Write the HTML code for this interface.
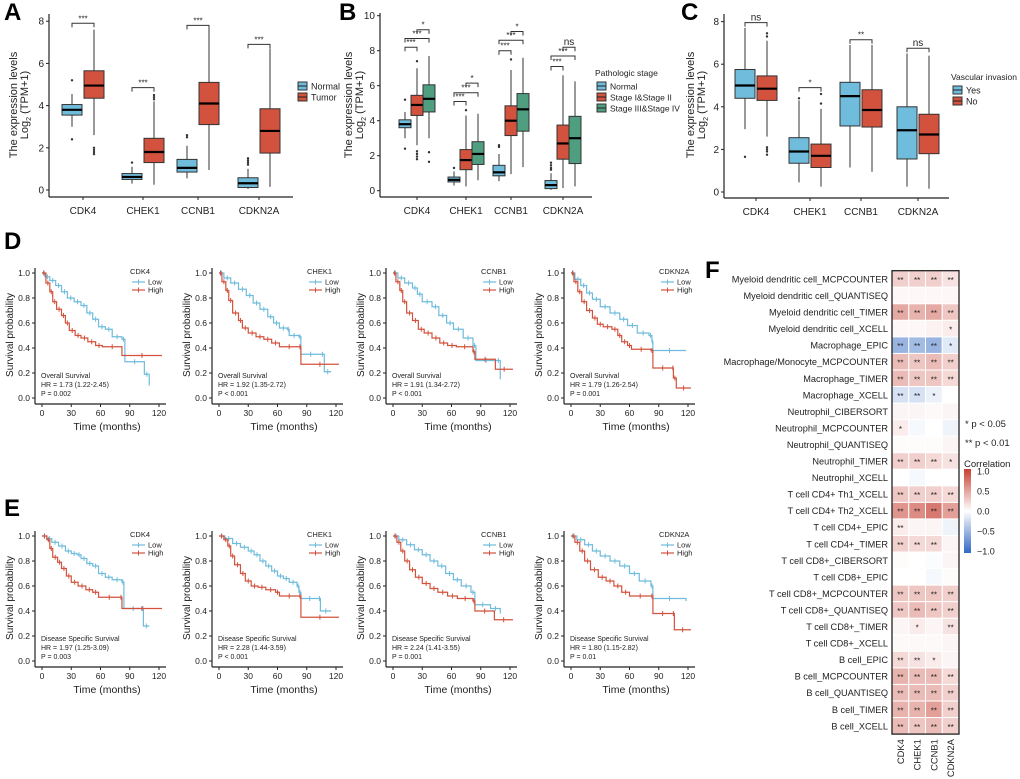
<!DOCTYPE html>
<html><head><meta charset="utf-8"><style>
body{margin:0;background:#fff;}
svg{display:block;font-family:"Liberation Sans",Arial,sans-serif;}
</style></head><body>
<svg id="fig" width="1020" height="779" viewBox="0 0 1020 779" xmlns="http://www.w3.org/2000/svg"></svg>
<script>
// ---------- DATA ----------
const genes = ["CDK4","CHEK1","CCNB1","CDKN2A"];
// box stats: [low, q1, median, q3, high, outliers...]
const boxA_normal = [[3.0,3.55,3.8,4.05,4.55,5.2,2.4],[0.3,0.5,0.62,0.78,1.1,1.3],[0.55,0.85,1.05,1.45,2.1,2.5,2.6],[0.05,0.12,0.32,0.58,1.0,1.2,1.3,1.4,1.5]];
const boxA_tumor = [[2.6,4.35,4.95,5.65,7.6,1.7,1.8,1.9,2.0],[0.25,1.3,1.8,2.45,4.2,4.3,4.4,4.5],[0.95,3.1,4.1,5.1,7.7],[0.15,1.75,2.8,3.85,6.7]];
const sigA_y = [7.9,4.85,7.8,6.9];
const sigA_lab = ["***","***","***","***"];
const boxB_normal = [[3.0,3.6,3.8,4.05,4.5,5.2,2.4],[0.3,0.5,0.62,0.78,1.1,1.3],[0.55,0.85,1.05,1.45,2.1,2.5,2.6],[0.05,0.12,0.32,0.58,1.0,1.2,1.3,1.45,1.6]];
const boxB_stage12 = [[2.6,4.3,4.9,5.45,7.0,7.4,1.8,1.95,2.1,2.25],[0.25,1.2,1.75,2.35,4.3,4.6],[0.95,3.15,4.0,4.85,6.9,7.5],[0.15,1.8,2.7,3.75,6.6]];
const boxB_stage34 = [[3.0,4.5,5.25,6.05,7.7,1.65,2.2],[0.6,1.5,2.1,2.8,4.4],[1.35,3.4,4.65,5.55,7.6],[0.25,1.55,3.0,4.25,6.25]];
const sigB_y1 = [8.2,5.1,8.0,7.1];
const sigB_y2 = [8.7,5.6,8.6,7.7];
const sigB_y3 = [9.2,6.15,9.1,8.2];
const sigB_lab3 = ["*","*","*","ns"];
const boxC_yes = [[2.95,4.4,5.0,5.75,7.7,1.65],[0.45,1.35,1.9,2.55,4.3,4.4],[1.15,3.1,4.5,5.15,6.9],[0.25,1.55,2.9,4.0,6.5]];
const boxC_no = [[2.6,4.3,4.85,5.45,7.1,7.3,7.45,1.75,1.9,2.0,2.1],[0.25,1.15,1.7,2.25,3.9,4.15,4.6],[0.95,3.05,3.85,4.8,6.9],[0.15,1.8,2.7,3.65,6.4]];
const sigC_y = [7.95,4.9,7.15,6.75];
const sigC_lab = ["ns","*","**","ns"];

// KM curves [time, survival]
const kmD_low = [
 [[0,1],[3,.97],[8,.94],[14,.9],[20,.85],[26,.8],[33,.77],[40,.74],[46,.68],[52,.63],[58,.57],[65,.55],[72,.49],[82,.47],[85,.29],[105,.19],[110,.1]],
 [[0,1],[5,.96],[12,.92],[20,.87],[28,.82],[35,.76],[42,.71],[50,.65],[56,.6],[62,.56],[70,.55],[72,.5],[82,.49],[84,.35],[104,.35],[108,.21],[115,.21]],
 [[0,1],[5,.96],[12,.92],[20,.88],[25,.83],[30,.77],[40,.73],[47,.66],[55,.6],[62,.55],[72,.48],[82,.42],[85,.3],[106,.3],[110,.15]],
 [[0,1],[4,.95],[10,.9],[16,.84],[22,.79],[30,.73],[40,.68],[50,.63],[58,.58],[68,.52],[80,.5],[83,.45],[84,.38],[118,.38]]];
const kmD_high = [
 [[0,1],[4,.92],[8,.85],[11,.77],[15,.71],[20,.66],[24,.6],[28,.54],[34,.5],[40,.48],[47,.45],[55,.42],[62,.41],[82,.34],[123,.34]],
 [[0,1],[3,.93],[7,.86],[10,.78],[14,.68],[20,.62],[24,.56],[30,.52],[38,.49],[46,.47],[54,.44],[62,.41],[82,.41],[84,.27],[123,.27]],
 [[0,1],[3,.93],[7,.86],[10,.77],[14,.68],[20,.62],[26,.55],[32,.52],[40,.48],[48,.44],[56,.42],[65,.41],[82,.37],[84,.31],[105,.23],[123,.23]],
 [[0,1],[3,.93],[7,.85],[11,.77],[16,.7],[22,.64],[27,.59],[33,.57],[42,.55],[48,.5],[52,.45],[58,.42],[62,.39],[82,.38],[84,.24],[104,.24],[105,.16],[108,.08],[123,.08]]];
const kmE_low = [
 [[0,1],[5,.98],[10,.95],[17,.92],[24,.88],[30,.86],[36,.85],[40,.82],[46,.78],[52,.76],[58,.7],[65,.67],[72,.65],[82,.63],[84,.42],[103,.42],[104,.28],[110,.28]],
 [[0,1],[6,.98],[14,.94],[22,.91],[30,.88],[36,.85],[42,.8],[48,.76],[54,.72],[60,.68],[66,.66],[72,.63],[80,.6],[82,.55],[84,.5],[102,.5],[104,.4],[115,.4]],
 [[0,1],[6,.97],[14,.93],[22,.89],[30,.85],[38,.8],[46,.76],[54,.7],[62,.65],[70,.6],[80,.55],[84,.45],[100,.42],[110,.38]],
 [[0,1],[6,.97],[14,.93],[22,.88],[30,.84],[40,.8],[50,.76],[60,.7],[70,.64],[82,.6],[84,.5],[118,.48]]];
const kmE_high = [
 [[0,1],[5,.97],[8,.9],[11,.83],[16,.79],[20,.74],[25,.68],[30,.63],[37,.6],[45,.57],[52,.55],[58,.51],[80,.51],[82,.42],[123,.42]],
 [[0,1],[5,.97],[9,.92],[12,.84],[16,.77],[22,.7],[27,.64],[33,.6],[40,.59],[48,.57],[58,.55],[62,.52],[82,.52],[84,.35],[123,.35]],
 [[0,1],[4,.95],[8,.88],[12,.8],[17,.73],[23,.67],[30,.62],[38,.58],[46,.55],[56,.52],[66,.5],[82,.48],[84,.4],[104,.33],[123,.33]],
 [[0,1],[4,.95],[9,.88],[14,.8],[20,.73],[28,.67],[36,.64],[44,.6],[52,.55],[60,.52],[82,.52],[84,.38],[104,.38],[106,.25],[123,.25]]];
const kmD_hr = ["HR = 1.73 (1.22-2.45)","HR = 1.92 (1.35-2.72)","HR = 1.91 (1.34-2.72)","HR = 1.79 (1.26-2.54)"];
const kmD_p = ["P = 0.002","P < 0.001","P < 0.001","P = 0.001"];
const kmE_hr = ["HR = 1.97 (1.25-3.09)","HR = 2.28 (1.44-3.59)","HR = 2.24 (1.41-3.55)","HR = 1.80 (1.15-2.82)"];
const kmE_p = ["P = 0.003","P < 0.001","P = 0.001","P = 0.01"];
const kmTicks = [0,30,60,90,120];
const kmYTicks = [0,0.2,0.4,0.6,0.8,1.0];

// heatmap
const hmRows = ["Myeloid dendritic cell_MCPCOUNTER","Myeloid dendritic cell_QUANTISEQ","Myeloid dendritic cell_TIMER","Myeloid dendritic cell_XCELL","Macrophage_EPIC","Macrophage/Monocyte_MCPCOUNTER","Macrophage_TIMER","Macrophage_XCELL","Neutrophil_CIBERSORT","Neutrophil_MCPCOUNTER","Neutrophil_QUANTISEQ","Neutrophil_TIMER","Neutrophil_XCELL","T cell CD4+ Th1_XCELL","T cell CD4+ Th2_XCELL","T cell CD4+_EPIC","T cell CD4+_TIMER","T cell CD8+_CIBERSORT","T cell CD8+_EPIC","T cell CD8+_MCPCOUNTER","T cell CD8+_QUANTISEQ","T cell CD8+_TIMER","T cell CD8+_XCELL","B cell_EPIC","B cell_MCPCOUNTER","B cell_QUANTISEQ","B cell_TIMER","B cell_XCELL"];
const hmVals = [[.25,.25,.25,.15],[.04,.04,.04,.04],[.45,.4,.45,.3],[.04,.04,.07,.1],[-.5,-.45,-.5,-.15],[.35,.3,.35,.25],[.35,.3,.3,.2],[-.2,-.2,-.1,0],[.05,.05,.03,.05],[.1,-.05,0,-.08],[.02,.02,.02,.05],[.25,.25,.2,.15],[0,-.05,0,0],[.3,.25,.25,.2],[.55,.6,.7,.5],[.1,.05,.05,-.08],[.25,.2,.2,.05],[.02,0,-.02,.05],[0,0,-.05,.02],[.3,.3,.3,.25],[.3,.35,.3,.25],[.05,.1,.05,.15],[.03,.03,.03,.05],[.2,.15,.1,.05],[.4,.35,.35,.2],[.35,.35,.35,.25],[.4,.4,.5,.25],[.35,.3,.35,.25]];
const hmSig = [["**","**","**","**"],["","","",""],["**","**","**","**"],["","","","*"],["**","**","**","*"],["**","**","**","**"],["**","**","**","**"],["**","**","*",""],["","","",""],["*","","",""],["","","",""],["**","**","**","*"],["","","",""],["**","**","**","**"],["**","**","**","**"],["**","","",""],["**","**","**",""],["","","",""],["","","",""],["**","**","**","**"],["**","**","**","**"],["","*","","**"],["","","",""],["**","**","*",""],["**","**","**","**"],["**","**","**","**"],["**","**","**","**"],["**","**","**","**"]];
const cbTicks = [1.0,0.5,0.0,-0.5,-1.0];
const cbLabels = ["1.0","0.5","0.0","\u22120.5","\u22121.0"];

// ---------- DRAW ----------
const svg = document.getElementById('fig');
const NS = "http://www.w3.org/2000/svg";
function el(tag, attrs, parent){ const e=document.createElementNS(NS,tag); for(const k in attrs) e.setAttribute(k,attrs[k]); (parent||svg).appendChild(e); return e; }
function txt(x,y,s,size,opts,parent){ const t=el('text',Object.assign({x:x,y:y,'font-size':size,fill:'#222'},opts||{}),parent); t.textContent=s; return t; }
const BLUE="#6fbcdc", RED="#d2523d", GREEN="#4f9e80";

// panel letters
[["A",4,20],["B",339,20],["C",681,20],["D",4,249],["E",4,516],["F",705,278]].forEach(l=>{
  const t=txt(l[1],l[2],l[0],24,{'font-weight':'bold',fill:'#000'});
  
  
});

function boxPanel(cfg){
  const g=el('g',{});
  
  
  const y=v=>cfg.y0-v*cfg.ppu;
  el('line',{x1:cfg.ax,y1:cfg.ytop,x2:cfg.ax,y2:cfg.xaxY,stroke:'#222','stroke-width':1.2},g);
  el('line',{x1:cfg.ax,y1:cfg.xaxY,x2:cfg.axR,y2:cfg.xaxY,stroke:'#222','stroke-width':1.2},g);
  cfg.ticks.forEach(v=>{
    el('line',{x1:cfg.ax-3,y1:y(v),x2:cfg.ax,y2:y(v),stroke:'#222'},g);
    txt(cfg.ax-5,y(v)+3.5,String(v),10,{'text-anchor':'end'},g);
  });
  genes.forEach((gn,i)=>{
    el('line',{x1:cfg.cx[i],y1:cfg.xaxY,x2:cfg.cx[i],y2:cfg.xaxY+3,stroke:'#222'},g);
    const t=txt(cfg.cx[i],cfg.xaxY+17,gn,10,{'text-anchor':'middle'},g);
    
    
  });
  const yl=el('g',{transform:`translate(${cfg.ylx},${cfg.ylc}) rotate(-90)`},g);
  txt(0,0,"The expression levels",11,{'text-anchor':'middle'},yl);
  const t2=txt(0,11,"Log",11,{'text-anchor':'middle'},yl);
  const s=el('tspan',{'font-size':7,dy:3},t2); s.textContent="2";
  const s2=el('tspan',{dy:-3},t2); s2.textContent=" (TPM+1)";
  cfg.series.forEach((ser,si)=>{
    ser.data.forEach((d,i)=>{
      const cx=cfg.cx[i]+cfg.offs[si], w=cfg.bw;
      const b=el('g',{},g);
      
      
      el('line',{x1:cx,y1:y(d[0]),x2:cx,y2:y(d[4]),stroke:'#333','stroke-width':1},b);
      el('rect',{x:cx-w/2,y:y(d[3]),width:w,height:y(d[1])-y(d[3]),fill:ser.color,stroke:'#333','stroke-width':1},b);
      el('line',{x1:cx-w/2,y1:y(d[2]),x2:cx+w/2,y2:y(d[2]),stroke:'#000','stroke-width':2.2},b);
      d.slice(5).forEach(o=>el('circle',{cx:cx,cy:y(o),r:1.2,fill:'#333'},b));
    });
  });
  cfg.brackets.forEach(br=>{
    const x1=br.x1,x2=br.x2,yy=y(br.v);
    el('path',{d:`M${x1},${yy+4}V${yy}H${x2}V${yy+4}`,fill:'none',stroke:'#333','stroke-width':1},g);
    txt((x1+x2)/2,yy-2,br.lab,br.lab==="ns"?10:8,{'text-anchor':'middle'},g);
  });
  const lg=el('g',{},g);
  
  
  if(cfg.legTitle) txt(cfg.legX,cfg.legY-10,cfg.legTitle,8.5,{},lg);
  cfg.series.forEach((ser,si)=>{
    const yy=cfg.legY+si*11;
    el('rect',{x:cfg.legX+2,y:yy-4,width:9,height:8,fill:ser.color,stroke:'#333'},lg);
    el('line',{x1:cfg.legX+2,y1:yy,x2:cfg.legX+11,y2:yy,stroke:'#222'},lg);
    txt(cfg.legX+15,yy+3.5,ser.label,cfg.legFont||9,{},lg);
  });
}

const cxA=[83,143,198,259];
boxPanel({name:'panel-a-boxplot',ax:49,axR:293,ytop:14,xaxY:197,y0:190,ppu:21.1,ticks:[0,2,4,6,8],cx:cxA,offs:[-11,11],bw:20,ylx:17,ylc:105,
  series:[{key:'normal',label:'Normal',color:BLUE,data:boxA_normal},{key:'tumor',label:'Tumor',color:RED,data:boxA_tumor}],
  brackets:genes.map((g,i)=>({x1:cxA[i]-11,x2:cxA[i]+11,v:sigA_y[i],lab:sigA_lab[i]})),legX:296,legY:86});

const cxB=[417,466,511,563];
const brB=[];
genes.forEach((g,i)=>{brB.push({x1:cxB[i]-12,x2:cxB[i],v:sigB_y1[i],lab:"***"});brB.push({x1:cxB[i]-12,x2:cxB[i]+12,v:sigB_y2[i],lab:"***"});brB.push({x1:cxB[i],x2:cxB[i]+12,v:sigB_y3[i],lab:sigB_lab3[i]});});
boxPanel({name:'panel-b-boxplot',ax:380,axR:592,ytop:13,xaxY:197,y0:190.7,ppu:17.5,ticks:[0,2,4,6,8,10],cx:cxB,offs:[-12,0,12],bw:12,ylx:352,ylc:105,
  series:[{key:'normal',label:'Normal',color:BLUE,data:boxB_normal},{key:'stage12',label:'Stage I&Stage II',color:RED,data:boxB_stage12},{key:'stage34',label:'Stage III&Stage IV',color:GREEN,data:boxB_stage34}],
  brackets:brB,legTitle:'Pathologic stage',legX:595,legY:86,legFont:8.5});

const cxC=[756,810,861,918];
boxPanel({name:'panel-c-boxplot',ax:724,axR:949,ytop:14,xaxY:198,y0:192,ppu:21.3,ticks:[0,2,4,6,8],cx:cxC,offs:[-11,11],bw:20,ylx:694,ylc:105,
  series:[{key:'yes',label:'Yes',color:BLUE,data:boxC_yes},{key:'no',label:'No',color:RED,data:boxC_no}],
  brackets:genes.map((g,i)=>({x1:cxC[i]-11,x2:cxC[i]+11,v:sigC_y[i],lab:sigC_lab[i]})),legTitle:'Vascular invasion',legX:951,legY:90});

// KM
const kmAx=[35,212,386,564];
function kmPlot(ax,y0,gene,low,high,title,hr,p,name){
  const g=el('g',{});
  
  
  const X=t=>ax+7+t*117/120, Y=s=>y0+(1-s)*125;
  el('line',{x1:ax,y1:y0-5,x2:ax,y2:y0+131,stroke:'#222','stroke-width':1.2},g);
  el('line',{x1:ax,y1:y0+131,x2:ax+131,y2:y0+131,stroke:'#222','stroke-width':1.2},g);
  kmYTicks.forEach(v=>{el('line',{x1:ax-3,y1:Y(v),x2:ax,y2:Y(v),stroke:'#222'},g);txt(ax-5,Y(v)+3,v.toFixed(1),8.5,{'text-anchor':'end'},g);});
  kmTicks.forEach(v=>{el('line',{x1:X(v),y1:y0+131,x2:X(v),y2:y0+134,stroke:'#222'},g);txt(X(v),y0+143,String(v),8.5,{'text-anchor':'middle'},g);});
  txt(ax+72,y0+157,"Time (months)",10.5,{'text-anchor':'middle'},g);
  const yl=el('g',{transform:`translate(${ax-22},${y0+62}) rotate(-90)`},g);
  txt(0,0,"Survival probability",10,{'text-anchor':'middle'},yl);
  [[low,BLUE,'low'],[high,RED,'high']].forEach(c=>{
    const pts=c[0]; let d=`M${X(pts[0][0])},${Y(pts[0][1])}`;
    for(let i=1;i<pts.length;i++){d+=`H${X(pts[i][0])}V${Y(pts[i][1])}`;}
    const path=el('path',{d:d,fill:'none',stroke:c[1],'stroke-width':1.2},g);
    
    
    for(let i=1;i<pts.length;i++){const mx=X((pts[i-1][0]+pts[i][0])/2),my=Y(pts[i-1][1]);el('line',{x1:mx,y1:my-2.5,x2:mx,y2:my+2.5,stroke:c[1],'stroke-width':1},g);}
  });
  txt(ax+95,y0+1,gene,7.5,{},g);
  el('line',{x1:ax+97,y1:y0+9,x2:ax+110,y2:y0+9,stroke:BLUE,'stroke-width':1.2},g);
  el('line',{x1:ax+103.5,y1:y0+6.5,x2:ax+103.5,y2:y0+11.5,stroke:BLUE},g);
  txt(ax+113,y0+11.5,"Low",7.5,{},g);
  el('line',{x1:ax+97,y1:y0+17,x2:ax+110,y2:y0+17,stroke:RED,'stroke-width':1.2},g);
  el('line',{x1:ax+103.5,y1:y0+14.5,x2:ax+103.5,y2:y0+19.5,stroke:RED},g);
  txt(ax+113,y0+19.5,"High",7.5,{},g);
  txt(ax+6,y0+105,title,7,{},g);
  txt(ax+6,y0+114,hr,7,{},g);
  txt(ax+6,y0+123,p,7,{},g);
}
genes.forEach((gn,i)=>{
  kmPlot(kmAx[i],273,gn,kmD_low[i],kmD_high[i],"Overall Survival",kmD_hr[i],kmD_p[i],'km-os-'+gn.toLowerCase());
  kmPlot(kmAx[i],536,gn,kmE_low[i],kmE_high[i],"Disease Specific Survival",kmE_hr[i],kmE_p[i],'km-dss-'+gn.toLowerCase());
});

// heatmap
const hmX=892, hmTop=270.7, cw=16.75, rh=16.55;
function corrColor(v){
  const a=Math.min(1,Math.abs(v));
  const c=v>=0?[198,64,50]:[50,105,195];
  const r=Math.round(255+(c[0]-255)*a),gg=Math.round(255+(c[1]-255)*a),b=Math.round(255+(c[2]-255)*a);
  return `rgb(${r},${gg},${b})`;
}
const hg=el('g',{});


hmRows.forEach((rn,r)=>{
  const t=txt(hmX-4,hmTop+r*rh+rh/2+3.5,rn,9.2,{'text-anchor':'end'},hg);
  
  
  hmVals[r].forEach((v,c)=>{
    const rc=el('rect',{x:hmX+c*cw,y:hmTop+r*rh,width:cw,height:rh,fill:corrColor(v),stroke:'#fff','stroke-width':1},hg);
    
    
    if(hmSig[r][c]) txt(hmX+c*cw+cw/2,hmTop+r*rh+rh/2+4,hmSig[r][c],8,{'text-anchor':'middle',fill:'#222'},hg);
  });
});
el('rect',{x:hmX,y:hmTop,width:cw*4,height:rh*hmRows.length,fill:'none',stroke:'#222','stroke-width':1.3},hg);
genes.forEach((gn,c)=>{
  const t=txt(0,0,gn,9.4,{'text-anchor':'end',transform:`translate(${hmX+c*cw+cw/2+3.5},${hmTop+rh*hmRows.length+5}) rotate(-90)`},hg);
  
  
});
const defs=el('defs',{});
const lgd=el('linearGradient',{id:'cb',x1:0,y1:0,x2:0,y2:1},defs);
el('stop',{offset:'0%','stop-color':corrColor(1)},lgd);
el('stop',{offset:'50%','stop-color':'#fff'},lgd);
el('stop',{offset:'100%','stop-color':corrColor(-1)},lgd);
const cbg=el('g',{});


txt(965,427,"* p < 0.05",9.5,{},cbg);
txt(965,446,"** p < 0.01",9.5,{},cbg);
txt(964,467,"Correlation",9.5,{},cbg);
const cbY=v=>511-v*40;
el('rect',{x:964,y:cbY(1)-2,width:7,height:84,fill:'url(#cb)'},cbg);
cbTicks.forEach((v,i)=>{txt(977,cbY(v)+3.5,cbLabels[i],9,{},cbg);});
</script>
</body></html>
